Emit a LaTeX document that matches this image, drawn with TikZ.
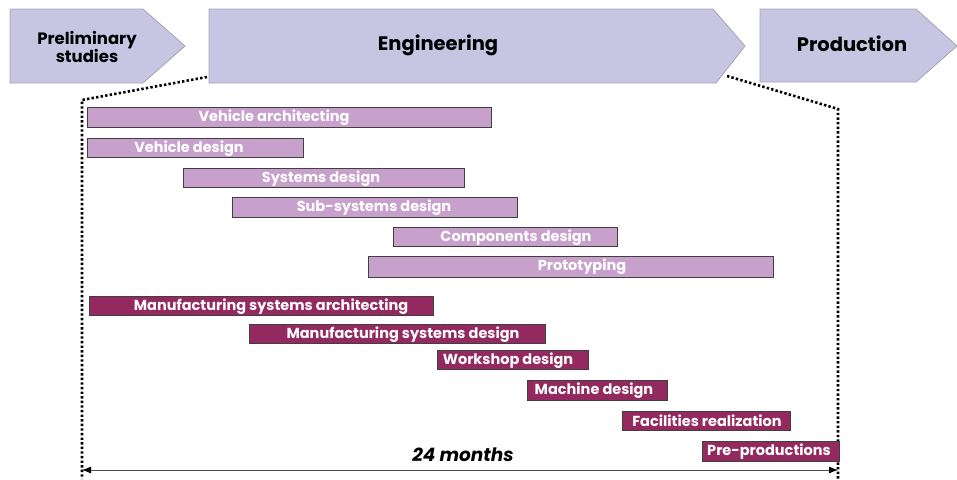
\documentclass[tikz,border=0pt]{standalone}
\usepackage{fontspec}
\setmainfont{Poppins}
\usetikzlibrary{arrows.meta}
\definecolor{phasefill}{HTML}{C8C5E2}
\definecolor{phaseedge}{HTML}{A4A4B4}
\definecolor{vehbar}{HTML}{C7A1CB}
\definecolor{manbar}{HTML}{93295E}
\tikzset{
	phase/.style={fill=phasefill, draw=phaseedge, line width=0.8pt},
	phasetext/.style={font=\fontsize{#1}{#1}\selectfont\bfseries, align=center},
	vbar/.style={fill=vehbar, draw=black!75, line width=0.7pt},
	mbar/.style={fill=manbar, draw=black!75, line width=0.7pt},
	bartext/.style={text=white, font=\fontsize{14.5}{16}\selectfont\bfseries, inner sep=0pt, yshift=-1pt},
	limit/.style={line width=2.6pt, dash pattern=on 2.4pt off 2.2pt}
}
\begin{document}
\begin{tikzpicture}[x=1pt, y=-1pt]
	\useasboundingbox (0,0) rectangle (957,479);
	% phases
	\draw[phase] (10,9) -- (143,9) -- (185,46) -- (143,83) -- (10,83) -- cycle;
	\draw[phase] (209,9) -- (713,9) -- (745,46) -- (716,83) -- (209,83) -- cycle;
	\draw[phase] (760,9) -- (916,9) -- (957,46) -- (916,82) -- (760,82) -- cycle;
	\node[phasetext=16.5] (prelim) at (87,47) {Preliminary\\[-1pt]studies};
	\node[phasetext=19.5] (eng) at (438,45) {Engineering};
	\node[phasetext=19.5] (prod) at (852,44) {Production};
	% zoom lines
	\coordinate (engL) at (207,77);
	\coordinate (engR) at (727,76);
	\coordinate (topL) at (82,100);
	\coordinate (topR) at (838,109);
	\coordinate (botL) at (82,479);
	\coordinate (botR) at (838,479);
	\draw[limit] (engL) -- (topL) -- (botL);
	\draw[limit] (engR) -- (topR) -- (botR);
	% vehicle bars
	\draw[vbar] (87,107) rectangle (491,127);
	\node[bartext] (vehArch) at (274,117) {Vehicle architecting};
	\draw[vbar] (87,138) rectangle (303,157);
	\node[bartext] (vehDes) at (189,148) {Vehicle design};
	\draw[vbar] (183,168) rectangle (464,187);
	\node[bartext] (sysDes) at (321,178) {Systems design};
	\draw[vbar] (232,197) rectangle (517,217);
	\node[bartext] (subDes) at (374,207) {Sub-systems design};
	\draw[vbar] (393,227) rectangle (617,246);
	\node[bartext] (compDes) at (516,237) {Components design};
	\draw[vbar] (368,256) rectangle (773,277);
	\node[bartext] (proto) at (582,266) {Prototyping};
	% manufacturing bars
	\draw[mbar] (89,296) rectangle (433,315);
	\node[bartext] (manArch) at (271,306) {Manufacturing systems architecting};
	\draw[mbar] (249,324) rectangle (545,343);
	\node[bartext] (manDes) at (403,334) {Manufacturing systems design};
	\draw[mbar] (437,350) rectangle (588,369);
	\node[bartext] (shopDes) at (508,360) {Workshop design};
	\draw[mbar] (527,380) rectangle (667,400);
	\node[bartext] (machDes) at (594,390) {Machine design};
	\draw[mbar] (622,411) rectangle (790,430);
	\node[bartext] (facil) at (707,420) {Facilities realization};
	\draw[mbar] (702,441) rectangle (839,461);
	\node[bartext] (preProd) at (769,451) {Pre-productions};
	% duration
	\coordinate (durL) at (82,470);
	\coordinate (durR) at (838,470);
	\draw[black!70, line width=0.8pt, {Latex[length=9pt,width=7pt,black]}-{Latex[length=9pt,width=7pt,black]}] (durL) -- (durR);
	\node[font=\fontsize{18.5}{19}\selectfont\bfseries\itshape] (dur) at (463,455) {24 months};
\end{tikzpicture}
\end{document}
